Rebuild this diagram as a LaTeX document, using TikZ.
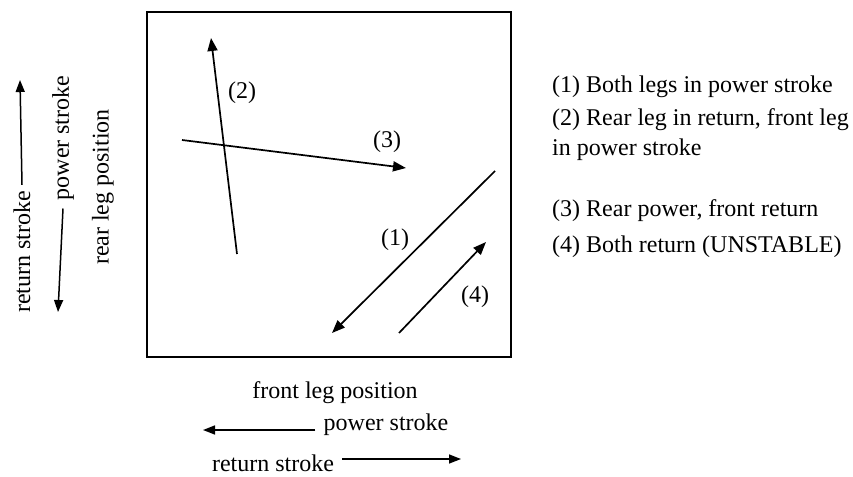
\documentclass[tikz,border=0pt]{standalone}
\usepackage{fontspec}
\setmainfont{Liberation Serif}
\usetikzlibrary{arrows.meta,positioning}
\tikzset{
  txt/.style={font=\fontsize{24}{30}\selectfont,inner sep=2pt},
  legend/.style={txt,anchor=west,align=left},
  vec/.style={-{Triangle[length=13pt,width=10pt]},line width=1.7pt},
  ax/.style={-{Triangle[length=12pt,width=9pt]},line width=1.5pt},
}
\begin{document}
\begin{tikzpicture}[x=1pt,y=-1pt]
\useasboundingbox (0,0) rectangle (853,476);
% phase plane
\node[draw,line width=2pt,minimum width=364pt,minimum height=345pt,inner sep=0pt] (plane) at (329,184.5) {};
% trajectories
\coordinate (t2a) at (237,254);
\coordinate (t2b) at (211,38);
\coordinate (t3a) at (182,140);
\coordinate (t3b) at (406,168);
\coordinate (t1a) at (495,171);
\coordinate (t1b) at (332,333);
\coordinate (t4a) at (399,333);
\coordinate (t4b) at (486,242);
\draw[vec] (t2a) -- (t2b);
\draw[vec] (t3a) -- (t3b);
\draw[vec] (t1a) -- (t1b);
\draw[vec] (t4a) -- (t4b);
\node[txt] (l2) at (242,93) {(2)};
\node[txt] (l3) at (387,142) {(3)};
\node[txt] (l1) at (395,240) {(1)};
\node[txt] (l4) at (475,297) {(4)};
% rear leg axis
\node[txt,rotate=90] (rearpos) at (103,187) {rear leg position};
\node[txt,rotate=90] (rearpow) at (63,138) {power stroke};
\node[txt,rotate=90] (rearret) at (22,252) {return stroke};
\coordinate (rpowtip) at (58,312);
\coordinate (rrettip) at (20,80);
\draw[ax] (rearpow.west) ++(0,6) -- (rpowtip);
\draw[ax] (rearret.east) ++(0,-4) -- (rrettip);
% front leg axis
\node[txt] (frontpos) at (335,393) {front leg position};
\node[txt] (frontpow) at (386,425) {power stroke};
\node[txt] (frontret) at (273,463) {return stroke};
\coordinate (fpowtip) at (203,430);
\coordinate (frettip) at (461,459);
\draw[ax] (frontpow.west) ++(-6,5) -- (fpowtip);
\draw[ax] (frontret.east) ++(6,-4) -- (frettip);
% legend
\node[legend] (k1) at (550,87) {(1) Both legs in power stroke};
\node[legend] (k2) at (550,135) {(2) Rear leg in return, front leg\\in power stroke};
\node[legend] (k3) at (550,211) {(3) Rear power, front return};
\node[legend] (k4) at (550,247) {(4) Both return (UNSTABLE)};
\end{tikzpicture}
\end{document}
